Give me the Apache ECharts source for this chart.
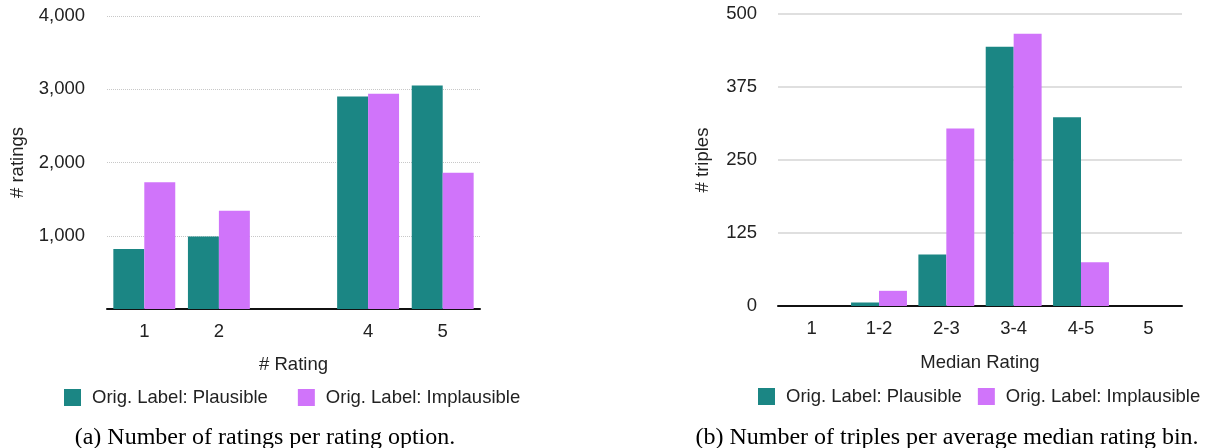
<!DOCTYPE html>
<html>
<head>
<meta charset="utf-8">
<script src="https://cdn.jsdelivr.net/npm/echarts@6/dist/echarts.min.js"></script>
<style>
html,body{margin:0;padding:0;background:#fff;}
#chart{width:1209px;height:448px;}
</style>
</head>
<body>
<div id="chart"></div>
<script>
// ---- Data ----
var seriesNames = ['Orig. Label: Plausible', 'Orig. Label: Implausible'];

// (a) ratings per rating option
var ratingCategories = ['1', '2', '', '4', '5'];
var ratingsPlausible = [820, 990, null, 2900, 3050];
var ratingsImplausible = [1730, 1340, null, 2940, 1860];

// (b) triples per average median rating bin
var binCategories = ['1', '1-2', '2-3', '3-4', '4-5', '5'];
var triplesPlausible = [0, 6, 88, 444, 323, 0];
var triplesImplausible = [0, 26, 304, 466, 75, 0];

var captionA = '(a) Number of ratings per rating option.';
var captionB = '(b) Number of triples per average median rating bin.';

// ---- Style ----
var TEAL = '#1b8684';
var PURPLE = '#d074fa';
var SANS = '"Liberation Sans", Arial, Helvetica, sans-serif';
var SERIF = '"Liberation Serif", "Times New Roman", serif';
var TXT = '#222';
var FS = 18.5;

var chart = echarts.init(document.getElementById('chart'));

function fmtComma(v) {
  return String(v).replace(/\B(?=(\d{3})+(?!\d))/g, ',');
}

var option = {
  animation: false,
  backgroundColor: '#fff',
  textStyle: { fontFamily: SANS },
  grid: [
    { left: 107, top: 16, width: 373, height: 293, containLabel: false },
    { left: 778, top: 14, width: 404, height: 292, containLabel: false }
  ],
  legend: [
    {
      left: 64, top: 388, padding: 0,
      icon: 'rect', itemWidth: 17, itemHeight: 17, itemGap: 30,
      textStyle: { fontFamily: SANS, fontSize: FS, color: TXT, padding: [7, 0, 0, 6] },
      data: seriesNames
    },
    {
      left: 758, top: 387, padding: 0,
      icon: 'rect', itemWidth: 17, itemHeight: 17, itemGap: 16,
      textStyle: { fontFamily: SANS, fontSize: FS, color: TXT, padding: [7, 0, 0, 6] },
      data: seriesNames
    }
  ],
  xAxis: [
    {
      type: 'category', gridIndex: 0, data: ratingCategories,
      name: '# Rating', nameLocation: 'middle', nameGap: 46,
      nameTextStyle: { fontFamily: SANS, fontSize: FS, color: TXT },
      axisLine: { lineStyle: { color: '#111', width: 2 } },
      axisTick: { show: false },
      axisLabel: { fontFamily: SANS, fontSize: FS, color: TXT, margin: 13 }
    },
    {
      type: 'category', gridIndex: 1, data: binCategories,
      name: 'Median Rating', nameLocation: 'middle', nameGap: 47,
      nameTextStyle: { fontFamily: SANS, fontSize: FS, color: TXT },
      axisLine: { lineStyle: { color: '#111', width: 2 } },
      axisTick: { show: false },
      axisLabel: { fontFamily: SANS, fontSize: FS, color: TXT, margin: 13 }
    }
  ],
  yAxis: [
    {
      type: 'value', gridIndex: 0, min: 0, max: 4000, interval: 1000,
      name: '# ratings', nameLocation: 'middle', nameGap: 80,
      nameTextStyle: { fontFamily: SANS, fontSize: FS, color: TXT },
      axisLine: { show: false }, axisTick: { show: false },
      axisLabel: { fontFamily: SANS, fontSize: FS, color: TXT, margin: 22, showMinLabel: false,
        formatter: function (v) { return v === 0 ? '' : fmtComma(v); } },
      splitLine: { lineStyle: { color: '#c8c8c8', type: 'dotted', width: 1 } }
    },
    {
      type: 'value', gridIndex: 1, min: 0, max: 500, interval: 125,
      name: '# triples', nameLocation: 'middle', nameGap: 66,
      nameTextStyle: { fontFamily: SANS, fontSize: FS, color: TXT },
      axisLine: { show: false }, axisTick: { show: false },
      axisLabel: { fontFamily: SANS, fontSize: FS, color: TXT, margin: 21 },
      splitLine: { lineStyle: { color: '#d4d4d4', type: 'solid', width: 1.5 } }
    }
  ],
  series: [
    { name: seriesNames[0], type: 'bar', xAxisIndex: 0, yAxisIndex: 0, data: ratingsPlausible,
      itemStyle: { color: TEAL }, barGap: '0%', barCategoryGap: '17%' },
    { name: seriesNames[1], type: 'bar', xAxisIndex: 0, yAxisIndex: 0, data: ratingsImplausible,
      itemStyle: { color: PURPLE }, barGap: '0%', barCategoryGap: '17%' },
    { name: seriesNames[0], type: 'bar', xAxisIndex: 1, yAxisIndex: 1, data: triplesPlausible,
      itemStyle: { color: TEAL }, barGap: '0%', barCategoryGap: '17%' },
    { name: seriesNames[1], type: 'bar', xAxisIndex: 1, yAxisIndex: 1, data: triplesImplausible,
      itemStyle: { color: PURPLE }, barGap: '0%', barCategoryGap: '17%' }
  ],
  graphic: [
    { type: 'text', x: 265, y: 438,
      style: { text: captionA, font: '24px ' + SERIF, fill: '#000',
        align: 'center', verticalAlign: 'middle', textAlign: 'center', textVerticalAlign: 'middle' } },
    { type: 'text', x: 947, y: 438,
      style: { text: captionB, font: '24px ' + SERIF, fill: '#000',
        align: 'center', verticalAlign: 'middle', textAlign: 'center', textVerticalAlign: 'middle' } }
  ]
};

chart.setOption(option);
</script>
</body>
</html>
